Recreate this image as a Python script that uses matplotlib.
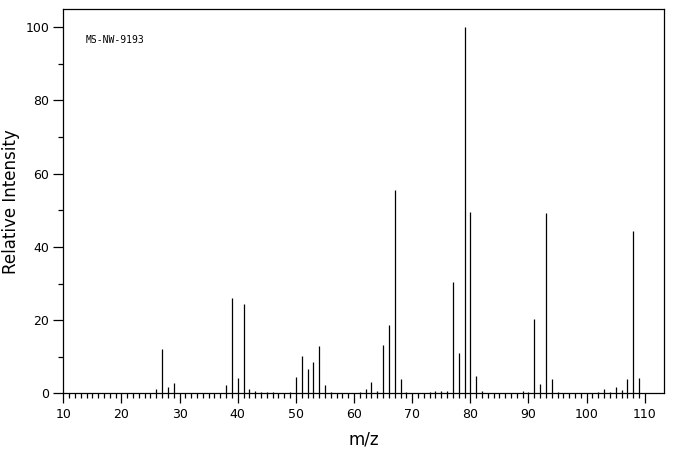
import numpy as np
import matplotlib
matplotlib.use("Agg")
from matplotlib import pyplot as plt

# spectre de masse (m/z, intensite relative)
mz = [26, 27, 28, 29, 38, 39, 40, 41, 42, 43, 44, 45, 46, 49, 50, 51, 52, 53, 54, 55, 56,
      61, 62, 63, 64, 65, 66, 67, 68, 69, 73, 74, 75, 76, 77, 78, 79, 80, 81, 82,
      89, 90, 91, 92, 93, 94, 95, 102, 103, 104, 105, 106, 107, 108, 109]
intensite = [1.2, 12.2, 1.8, 2.9, 2.3, 26.2, 4.2, 24.3, 1.2, 0.7, 0.4, 0.4, 0.3, 0.4, 4.5, 10.2, 6.7, 8.6, 13.0, 2.3, 0.4,
             0.3, 1.2, 3.1, 0.6, 13.2, 18.7, 55.6, 3.9, 0.4, 0.5, 0.8, 0.6, 0.6, 30.5, 11.1, 100.0, 49.6, 4.8, 0.6,
             0.6, 0.3, 20.4, 2.7, 49.2, 4.0, 0.3, 0.5, 1.1, 0.4, 1.8, 1.0, 4.0, 44.4, 4.2]
etiquette = "MS-NW-9193"

fig = plt.figure(figsize=(6.76, 4.55), dpi=100)
ax = fig.add_axes([0.0936, 0.1352, 0.8886, 0.8444])

ax.vlines(mz, 0, intensite, color="black", linewidth=0.9)

ax.set_xlim(10, 113.3)
ax.set_ylim(0, 104.9)

ax.set_xticks(np.arange(10, 111, 10))
ax.set_xticks(np.arange(10, 111, 1), minor=True)
ax.set_yticks(np.arange(0, 101, 20))
ax.set_yticks(np.arange(0, 101, 10), minor=True)

ax.tick_params(which="major", direction="out", length=7.2, width=0.9, labelsize=9, pad=3)
ax.tick_params(which="minor", direction="out", length=3.6, width=0.9)
for s in ax.spines.values():
    s.set_linewidth(0.9)

ax.set_xlabel("m/z", fontsize=12, labelpad=7)
ax.set_ylabel("Relative Intensity", fontsize=12, labelpad=4)

ax.text(0.038, 0.92, etiquette, transform=ax.transAxes, fontsize=7,
        family="DejaVu Sans Mono", va="center", ha="left")

fig.savefig("out.png", dpi=100)
